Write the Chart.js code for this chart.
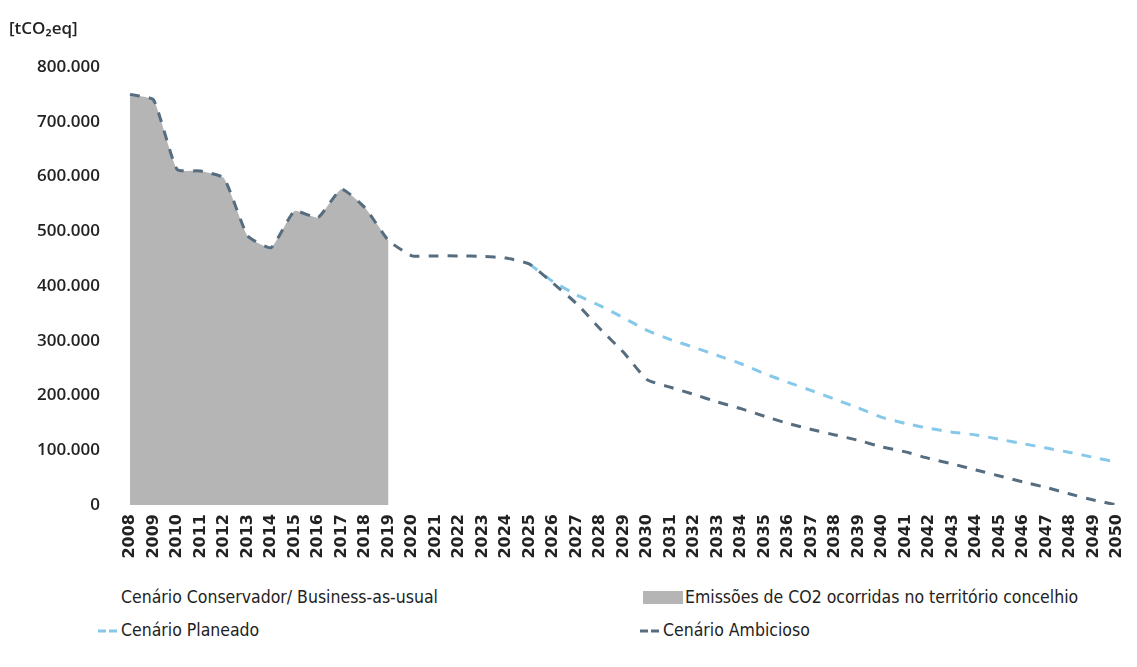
<!DOCTYPE html>
<html lang="pt">
<head>
<meta charset="utf-8">
<title>Emissões de CO2 – cenários 2008-2050</title>
<script src="https://cdn.jsdelivr.net/npm/chart.js@4/dist/chart.umd.min.js"></script>
<style>
  html, body { margin: 0; padding: 0; background: #ffffff; }
  #wrap { position: relative; width: 1137px; height: 667px; overflow: hidden; background: #ffffff; }
  #chart { position: absolute; left: 0; top: 0; }
  #unit { position: absolute; left: 9px; top: 16px; font: 600 17px "Open Sans", "DejaVu Sans", sans-serif; color: #222; }
  .leg { position: absolute; font: 17.5px "DejaVu Sans Condensed", "DejaVu Sans", sans-serif; color: #222; white-space: nowrap; line-height: 20px; }
  .leg svg { position: absolute; }
</style>
</head>
<body>
<div id="wrap">
  <canvas id="chart" width="1137" height="580"></canvas>
  <div id="unit">[tCO₂eq]</div>
  <div id="legend"></div>
</div>
<script>
// Years on the horizontal axis
const years = [];
for (let y = 2008; y <= 2050; y++) years.push(String(y));

// Recorded emissions in the municipality, 2008-2019 (tCO2eq)
const emissoes = [750000, 740000, 613000, 610000, 597000, 492000, 470000, 537000, 525000, 577000, 543000, 483000];

// Ambitious scenario, 2020-2050
const ambicioso = [455000, 455000, 455000, 454000, 451000, 440000, 405000, 368000, 322000, 279000,
                   229000, 215000, 202000, 188000, 176000, 162000, 149000, 138000, 128000, 118000,
                   106000, 97000, 85000, 75000, 64000, 53000, 42000, 32000, 20000, 9000, 0];

// Planned scenario, 2025-2050
const planeado = [440000, 408000, 384000, 364000, 342000, 319000, 302000, 288000, 273000, 258000,
                  240000, 224000, 209000, 193000, 177000, 160000, 149000, 140000, 133000, 128000,
                  120000, 112000, 104000, 96000, 87000, 78000];

// Business-as-usual scenario (no values drawn)
const conservador = [];

// Y axis ticks
const yTicks = [0, 100000, 200000, 300000, 400000, 500000, 600000, 700000, 800000];

const firstYear = 2008;
function place(values, startYear) {
  const out = new Array(years.length).fill(null);
  values.forEach((v, i) => { out[startYear - firstYear + i] = v; });
  return out;
}
function fmt(v) { return String(v).replace(/\B(?=(\d{3})+(?!\d))/g, '.'); }

const COL_AREA = '#b5b5b5';
const COL_DARK = '#566d80';
const COL_LIGHT = '#86c8ea';

const darkSeries = place(emissoes.concat(ambicioso), 2008);

const datasets = [
  {
    label: 'Cenário Conservador/ Business-as-usual',
    data: place(conservador, 2008),
    borderColor: 'rgba(0,0,0,0)', backgroundColor: 'rgba(0,0,0,0)',
    pointRadius: 0, borderWidth: 0, order: 4,
    legendKind: 'none'
  },
  {
    label: 'Emissões de CO2 ocorridas no território concelhio',
    data: place(emissoes, 2008),
    fill: 'origin', backgroundColor: COL_AREA, borderColor: COL_AREA,
    borderWidth: 0, pointRadius: 0, tension: 0.15, order: 3,
    legendKind: 'box'
  },
  {
    label: 'Cenário Planeado',
    data: place(planeado, 2025),
    fill: false, borderColor: COL_LIGHT, borderWidth: 3, borderDash: [10, 9],
    pointRadius: 0, tension: 0.15, order: 2,
    legendKind: 'dash'
  },
  {
    label: 'Cenário Ambicioso',
    data: darkSeries,
    fill: false, borderColor: COL_DARK, borderWidth: 3, borderDash: [10, 9],
    pointRadius: 0, tension: 0.15, order: 1,
    legendKind: 'dash'
  }
];

const chart = new Chart(document.getElementById('chart'), {
  type: 'line',
  data: { labels: years, datasets: datasets },
  options: {
    responsive: false,
    devicePixelRatio: 1,
    animation: false,
    events: [],
    layout: { padding: { top: 67, right: 20, bottom: 0, left: 0 } },
    plugins: { legend: { display: false }, tooltip: { enabled: false } },
    scales: {
      x: {
        offset: false,
        grid: { display: false, drawTicks: false },
        border: { display: false },
        ticks: {
          autoSkip: false, maxRotation: 90, minRotation: 90, padding: 9,
          color: '#222', font: { family: 'DejaVu Sans', size: 16, weight: 'bold' }
        },
        afterFit: (s) => { s.height = 75; s.paddingLeft = 0; s.paddingRight = 0; }
      },
      y: {
        min: 0, max: 800000,
        grid: { display: false, drawTicks: false },
        border: { display: false },
        afterBuildTicks: (s) => { s.ticks = yTicks.map(v => ({ value: v })); },
        ticks: {
          padding: 30, color: '#222',
          font: { family: 'Open Sans', size: 17, weight: '600' },
          callback: (v) => fmt(v)
        },
        afterFit: (s) => { s.width = 130; }
      }
    }
  }
});

// Legend in two columns below the plot
const legendSlots = [
  { left: 121, top: 587 },
  { left: 685, top: 587 },
  { left: 121, top: 620 },
  { left: 663, top: 620 }
];
const legend = document.getElementById('legend');
chart.data.datasets.forEach((ds, i) => {
  const slot = legendSlots[i];
  const item = document.createElement('div');
  item.className = 'leg';
  item.style.left = slot.left + 'px';
  item.style.top = slot.top + 'px';
  item.textContent = ds.label;
  if (ds.legendKind === 'box') {
    const box = document.createElement('div');
    box.style.cssText = 'position:absolute;left:-42px;top:4px;width:40px;height:13px;background:' + ds.backgroundColor;
    item.appendChild(box);
  } else if (ds.legendKind === 'dash') {
    const ns = 'http://www.w3.org/2000/svg';
    const svg = document.createElementNS(ns, 'svg');
    svg.setAttribute('width', '22'); svg.setAttribute('height', '8');
    svg.style.left = '-23px'; svg.style.top = '7px';
    const ln = document.createElementNS(ns, 'line');
    ln.setAttribute('x1', '0'); ln.setAttribute('y1', '4');
    ln.setAttribute('x2', '21'); ln.setAttribute('y2', '4');
    ln.setAttribute('stroke', ds.borderColor);
    ln.setAttribute('stroke-width', '3');
    ln.setAttribute('stroke-dasharray', '8 3');
    svg.appendChild(ln);
    item.appendChild(svg);
  }
  legend.appendChild(item);
});
</script>
</body>
</html>
